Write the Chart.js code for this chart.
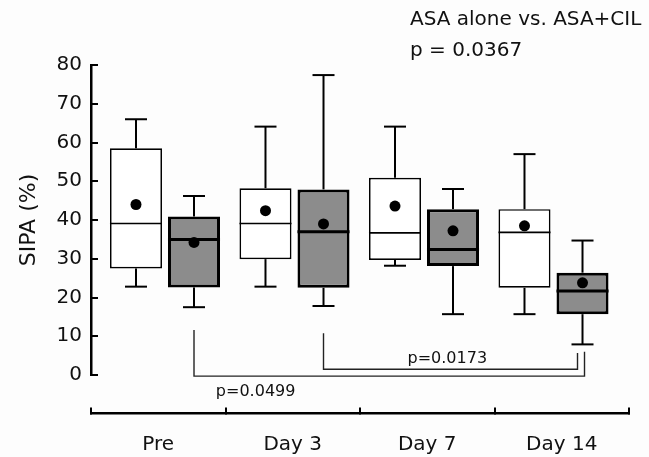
<!DOCTYPE html>
<html><head><meta charset="utf-8">
<script src="https://cdn.jsdelivr.net/npm/chart.js@4.4.0/dist/chart.umd.min.js"></script>
<style>html,body{margin:0;padding:0;background:#fdfdfd}#wrap{width:649px;height:457px;position:relative}</style>
</head><body><div id="wrap"><canvas id="c"></canvas></div>
<script>
// ---- data ----
const categories = ['Pre', 'Day 3', 'Day 7', 'Day 14'];
const yTicks = [0, 10, 20, 30, 40, 50, 60, 70, 80];
// ASA alone (white boxes)
const asaMin    = [22.8, 22.8, 28.2, 15.7];
const asaQ1     = [27.5, 29.9, 29.7, 22.5];
const asaMedian = [39.1, 39.1, 36.7, 36.8];
const asaQ3     = [58.5, 48.2, 50.9, 42.8];
const asaMax    = [66.0, 64.1, 64.1, 57.0];
const asaMean   = [44.0, 42.4, 43.6, 38.5];
// ASA+CIL (gray boxes)
const cilMin    = [17.5, 17.8, 15.7, 7.9];
const cilQ1     = [22.6, 22.5, 28.1, 15.7];
const cilMedian = [35.0, 37.0, 32.4, 21.7];
const cilQ3     = [40.9, 47.9, 42.8, 26.4];
const cilMax    = [46.2, 77.4, 48.0, 34.7];
const cilMean   = [34.2, 39.0, 37.2, 23.8];
// annotations
const headerLines = ['ASA alone vs. ASA+CIL', 'p = 0.0367'];
const comparisons = [
  {from: 0, to: 3, label: 'p=0.0499'},
  {from: 1, to: 3, label: 'p=0.0173'}
];

// ---- styling / layout ----
const FONT = 'DejaVu Sans';
const INK = '#111';
const bracketStyle = [
  {top: 11.6, base: -0.3, end: 6.0, endDx: 2, labelX: 0.70, labelY: -5.4},
  {top: 10.8, base: 1.5, end: 5.7, endDx: -5, labelX: 2.18, labelY: 3.0}
];
const headerPos = {x: 1.892, y: [90.3, 82.3]};

function boxData(q1, q3) { return categories.map((c, i) => ({x: i, y: [q1[i], q3[i]]})); }

const extras = {
  id: 'boxExtras',
  beforeDraw(chart) {
    const {ctx, width, height} = chart;
    ctx.save(); ctx.fillStyle = '#fdfdfd'; ctx.fillRect(0, 0, width, height); ctx.restore();
  },
  afterDatasetsDraw(chart) {
    const ctx = chart.ctx, y = chart.scales.y, xb = chart.scales.xb;
    ctx.save();
    ctx.strokeStyle = '#000'; ctx.fillStyle = '#000'; ctx.lineCap = 'butt';
    const seg = (x1, y1, x2, y2) => { ctx.beginPath(); ctx.moveTo(x1, y1); ctx.lineTo(x2, y2); ctx.stroke(); };
    chart.data.datasets.forEach((ds, di) => {
      const meta = chart.getDatasetMeta(di);
      const s = ds.stats;
      meta.data.forEach((bar, i) => {
        const cx = bar.x, w = bar.width;
        const pMin = y.getPixelForValue(s.min[i]), pMax = y.getPixelForValue(s.max[i]);
        const pQ1 = y.getPixelForValue(s.q1[i]), pQ3 = y.getPixelForValue(s.q3[i]);
        const pMed = y.getPixelForValue(s.med[i]), pMean = y.getPixelForValue(s.mean[i]);
        ctx.lineWidth = 2;
        seg(cx, pQ3, cx, pMax); seg(cx - 11, pMax, cx + 11, pMax);
        seg(cx, pQ1, cx, pMin); seg(cx - 11, pMin, cx + 11, pMin);
        ctx.lineWidth = ds.medianWidth;
        seg(cx - w / 2, pMed, cx + w / 2, pMed);
        ctx.beginPath(); ctx.arc(cx, pMean, 5.5, 0, Math.PI * 2); ctx.fill();
      });
    });
    // significance brackets (between ASA+CIL boxes)
    const gray = chart.getDatasetMeta(1).data;
    ctx.strokeStyle = '#222'; ctx.lineWidth = 1.4;
    ctx.font = '16px "' + FONT + '"'; ctx.fillStyle = INK; ctx.textAlign = 'center'; ctx.textBaseline = 'alphabetic';
    comparisons.forEach((c, k) => {
      const st = bracketStyle[k];
      const x1 = gray[c.from].x, x2 = gray[c.to].x + st.endDx;
      ctx.beginPath();
      ctx.moveTo(x1, y.getPixelForValue(st.top));
      ctx.lineTo(x1, y.getPixelForValue(st.base));
      ctx.lineTo(x2, y.getPixelForValue(st.base));
      ctx.lineTo(x2, y.getPixelForValue(st.end));
      ctx.stroke();
      ctx.fillText(c.label, xb.getPixelForValue(st.labelX), y.getPixelForValue(st.labelY));
    });
    // header text
    ctx.font = '20px "' + FONT + '"'; ctx.textAlign = 'left';
    headerLines.forEach((t, k) => ctx.fillText(t, xb.getPixelForValue(headerPos.x), y.getPixelForValue(headerPos.y[k])));
    ctx.restore();
  }
};

new Chart(document.getElementById('c'), {
  type: 'bar',
  data: {
    labels: categories,
    datasets: [
      {label: 'ASA alone', xAxisID: 'xb', yAxisID: 'y', data: boxData(asaQ1, asaQ3),
       backgroundColor: '#ffffff', borderColor: '#000', borderWidth: 1.7, borderSkipped: false,
       medianWidth: 1.7, stats: {min: asaMin, q1: asaQ1, med: asaMedian, q3: asaQ3, max: asaMax, mean: asaMean}},
      {label: 'ASA+CIL', xAxisID: 'xb', yAxisID: 'y', data: boxData(cilQ1, cilQ3),
       backgroundColor: '#8c8c8c', borderColor: '#000', borderWidth: 3, borderSkipped: false,
       medianWidth: 3, stats: {min: cilMin, q1: cilQ1, med: cilMedian, q3: cilQ3, max: cilMax, mean: cilMean}}
    ]
  },
  options: {
    responsive: true, maintainAspectRatio: false, animation: false,
    categoryPercentage: 0.896, barPercentage: 0.897,
    layout: {padding: {left: 0, top: 65, right: 20, bottom: 82}},
    plugins: {legend: {display: false}, tooltip: {enabled: false}},
    scales: {
      xb: {type: 'linear', display: false, offset: false, min: -0.5714, max: 3.583,
           afterBuildTicks: s => { s.ticks = categories.map((c, i) => ({value: i})); }},
      x: {type: 'category', labels: categories, position: {y: -9.8}, offset: true,
          grid: {offset: true, drawOnChartArea: false, color: '#000', lineWidth: 2, tickLength: -7},
          border: {display: true, color: '#000', width: 2.5},
          ticks: {font: {family: FONT, size: 20}, color: INK, padding: 27, maxRotation: 0}},
      y: {min: 0, max: 80,
          afterBuildTicks: s => { s.ticks = yTicks.map(v => ({value: v})); },
          afterFit: s => { s.width = 91; },
          grid: {drawOnChartArea: false, color: '#000', lineWidth: 2, tickLength: -7},
          border: {display: true, color: '#000', width: 2.5},
          ticks: {font: {family: FONT, size: 20}, color: INK, padding: 16},
          title: {display: true, text: 'SIPA (%)', font: {family: FONT, size: 22}, color: INK, padding: {top: 16, bottom: 0}}}
    }
  },
  plugins: [extras]
});
</script>
</body></html>
